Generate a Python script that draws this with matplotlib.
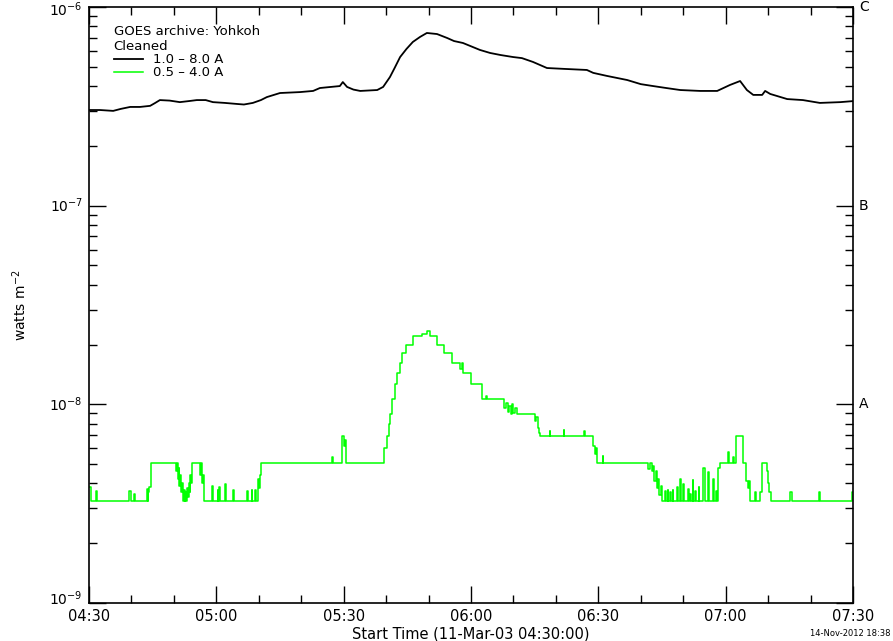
import math
import matplotlib
matplotlib.use("Agg")
import matplotlib.pyplot as plt
import matplotlib.ticker as mticker
import matplotlib.transforms as mtransforms

# ---- data (minutes after 04:30 on 11-Mar-03) ----
long_t = [0, 2.6, 5.7, 7.5, 9.7, 12, 14.4, 15.5, 16.7, 19, 21.4, 23.5, 25.4, 27.5, 29.2, 32,
          34.9, 36.5, 38.6, 40.5, 41.9, 45.0, 49.7, 52.8, 54.4, 57, 59.1, 59.8, 60.8, 62.3,
          63.9, 67.9, 69.3, 70.9, 72.0, 73.3, 74.8, 76.3, 78.0, 79.6, 82.0, 84.4, 86.0, 88.1,
          92.1, 94.5, 97, 99.9, 102, 104.6, 107.9, 112, 117.3, 118.8, 122, 126.8, 130, 132.9,
          136, 139.3, 144, 148.0, 151.0, 153.4, 155.0, 156.5, 158.6, 159.3, 160.5, 164.5,
          168.2, 172.2, 177, 180]
long_flux = [3.03e-7, 3.03e-7, 3.00e-7, 3.07e-7, 3.14e-7, 3.14e-7, 3.18e-7, 3.28e-7, 3.40e-7,
             3.38e-7, 3.32e-7, 3.36e-7, 3.40e-7, 3.40e-7, 3.32e-7, 3.29e-7, 3.25e-7, 3.23e-7,
             3.29e-7, 3.40e-7, 3.52e-7, 3.69e-7, 3.73e-7, 3.78e-7, 3.91e-7, 3.96e-7, 4.00e-7,
             4.19e-7, 3.96e-7, 3.84e-7, 3.78e-7, 3.82e-7, 3.96e-7, 4.44e-7, 4.93e-7, 5.60e-7,
             6.15e-7, 6.67e-7, 7.07e-7, 7.40e-7, 7.31e-7, 6.98e-7, 6.74e-7, 6.59e-7, 6.08e-7,
             5.87e-7, 5.73e-7, 5.60e-7, 5.53e-7, 5.29e-7, 4.93e-7, 4.88e-7, 4.82e-7, 4.66e-7,
             4.50e-7, 4.29e-7, 4.09e-7, 4.00e-7, 3.91e-7, 3.82e-7, 3.78e-7, 3.78e-7, 4.05e-7,
             4.24e-7, 3.82e-7, 3.61e-7, 3.61e-7, 3.78e-7, 3.65e-7, 3.44e-7, 3.40e-7, 3.29e-7,
             3.32e-7, 3.36e-7]

short_t = [0.0, 0.5, 1.6, 2.0, 9.5, 9.8, 10.7, 10.9, 13.6, 13.8, 14.0, 14.2, 14.5,
           20.4, 20.7, 20.9, 21.1, 21.3, 21.5, 21.7, 21.9, 22.1, 22.3, 22.5, 22.7, 22.9, 23.1,
           23.3, 23.5, 23.7, 23.9, 24.1, 24.3,
           26.2, 26.4, 26.6, 26.8, 27.0, 27.2,
           28.9, 29.1, 30.3, 30.5, 30.7, 30.9, 32.0, 32.2, 34.0, 34.2, 37.2, 37.4, 38.3, 38.5,
           39.1, 39.3, 39.7, 40.0, 40.2, 40.5,
           57.3, 57.6, 59.7, 60.1, 60.3, 60.5,
           69.6, 70.1, 70.7, 71.0, 71.4, 72.1, 72.5, 73.2, 73.7, 74.7, 76.3, 78.5, 79.6, 80.3,
           82.1, 83.6, 85.5, 87.4, 87.8, 88.2, 89.9, 92.5, 93.6, 93.8,
           97.8, 98.2, 98.6, 99.0, 99.4, 99.7, 100.0, 100.4, 100.8,
           105.1, 105.4, 105.7, 106.0, 106.3, 108.5, 108.7, 111.8, 112.0, 116.7, 116.9,
           118.8, 119.1, 119.4, 119.6, 121.0, 121.2, 131.8, 132.2,
           132.6, 132.9, 133.2, 133.5, 133.8, 134.1, 134.4, 134.7, 134.9,
           135.7, 135.9, 136.3, 136.5, 136.9, 137.1, 137.5, 137.7, 138.5, 138.7, 139.3, 139.5,
           140.0, 140.2, 141.2, 141.4, 141.6, 141.8, 142.2, 142.4, 142.8, 143.0, 143.6, 143.8,
           144.7, 145.2, 145.9, 146.1, 147.1, 147.3, 147.7, 147.9,
           148.3, 148.6, 150.6, 150.9, 151.8, 152.0, 152.4, 154.0, 154.9, 155.2, 155.5, 155.7,
           156.9, 157.1, 158.0, 158.5, 159.7, 159.9, 160.2, 160.6,
           165.2, 165.6, 172.1, 172.3, 179.8, 180.0]
short_flux = [3.85e-9, 3.27e-9, 3.65e-9, 3.27e-9, 3.65e-9, 3.27e-9, 3.55e-9, 3.27e-9,
              3.75e-9, 3.27e-9, 3.6e-9, 3.85e-9, 5.07e-9,
              4.6e-9, 5.07e-9, 4.2e-9, 4.8e-9, 3.9e-9, 4.4e-9, 3.6e-9, 4.0e-9, 3.27e-9, 3.7e-9,
              3.27e-9, 3.6e-9, 3.27e-9, 3.8e-9, 3.4e-9, 4.0e-9, 3.6e-9, 4.4e-9, 4.0e-9, 5.07e-9,
              4.4e-9, 5.07e-9, 4.0e-9, 4.4e-9, 3.6e-9, 3.27e-9,
              3.9e-9, 3.27e-9, 3.7e-9, 3.27e-9, 3.85e-9, 3.27e-9, 3.95e-9, 3.27e-9, 3.7e-9,
              3.27e-9, 3.65e-9, 3.27e-9, 3.7e-9, 3.27e-9, 3.7e-9, 3.27e-9, 4.2e-9, 3.8e-9,
              4.4e-9, 5.07e-9,
              5.4e-9, 5.07e-9, 6.93e-9, 6.2e-9, 6.6e-9, 5.07e-9,
              6.0e-9, 6.93e-9, 8.0e-9, 8.9e-9, 1.06e-8, 1.26e-8, 1.44e-8, 1.62e-8, 1.81e-8,
              2.0e-8, 2.21e-8, 2.26e-8, 2.35e-8, 2.21e-8,
              2.0e-8, 1.81e-8, 1.62e-8, 1.5e-8, 1.62e-8, 1.44e-8, 1.26e-8, 1.06e-8, 1.1e-8,
              1.06e-8,
              9.6e-9, 1.02e-8, 9.2e-9, 9.8e-9, 8.9e-9, 1.0e-8, 9.0e-9, 9.6e-9, 8.9e-9,
              8.2e-9, 8.6e-9, 7.6e-9, 7.2e-9, 6.93e-9, 7.3e-9, 6.93e-9, 7.4e-9, 6.93e-9,
              7.3e-9, 6.93e-9,
              6.2e-9, 5.6e-9, 6.0e-9, 5.07e-9, 5.5e-9, 5.07e-9, 4.75e-9, 5.07e-9,
              4.6e-9, 4.9e-9, 4.1e-9, 4.6e-9, 3.8e-9, 4.2e-9, 3.5e-9, 3.9e-9, 3.27e-9,
              3.65e-9, 3.27e-9, 3.7e-9, 3.27e-9, 3.6e-9, 3.27e-9, 3.7e-9, 3.27e-9, 3.85e-9,
              3.27e-9, 4.2e-9, 3.27e-9, 3.95e-9, 3.27e-9, 3.75e-9, 3.27e-9, 3.55e-9, 3.27e-9,
              4.15e-9, 3.27e-9, 3.65e-9, 3.27e-9, 3.85e-9, 3.27e-9, 4.8e-9, 3.27e-9, 4.55e-9,
              3.27e-9, 4.2e-9, 3.27e-9, 3.65e-9, 3.27e-9,
              4.8e-9, 5.07e-9, 5.75e-9, 5.07e-9, 5.4e-9, 5.07e-9, 6.93e-9, 5.07e-9, 4.1e-9,
              3.8e-9, 4.1e-9, 3.27e-9,
              3.6e-9, 3.27e-9, 3.6e-9, 5.07e-9, 4.6e-9, 4.0e-9, 3.6e-9, 3.27e-9,
              3.6e-9, 3.27e-9, 3.6e-9, 3.27e-9, 3.6e-9, 3.6e-9]

xtick_pos = [0, 30, 60, 90, 120, 150, 180]
xtick_labels = ["04:30", "05:00", "05:30", "06:00", "06:30", "07:00", "07:30"]
ytick_pos = [1e-9, 1e-8, 1e-7, 1e-6]
goes_class_flux = [1e-6, 1e-7, 1e-8]
goes_class_labels = ["C", "B", "A"]

# ---- figure ----
fig = plt.figure(figsize=(8.93, 6.41), dpi=100)
ax = fig.add_axes([89 / 893, 1 - 603 / 641, (853 - 89) / 893, (603 - 7) / 641])

ax.plot(long_t, long_flux, color="black", lw=1.3, label="1.0 \u2013 8.0 A")
ax.step(short_t, short_flux, where="post", color="#00ff00", lw=1.1, label="0.5 \u2013 4.0 A")

ax.set_yscale("log")
ax.set_ylim(1e-9, 1e-6)
ax.set_xlim(0, 180)
ax.set_xticks(xtick_pos)
ax.set_xticklabels(xtick_labels)
ax.xaxis.set_minor_locator(mticker.MultipleLocator(10))
ax.yaxis.set_major_locator(mticker.FixedLocator(ytick_pos))
ax.yaxis.set_minor_locator(mticker.LogLocator(base=10, subs=range(2, 10), numticks=20))
ax.yaxis.set_minor_formatter(mticker.NullFormatter())
ax.yaxis.set_major_formatter(mticker.NullFormatter())
ax.tick_params(which="both", direction="in", top=True, right=True, width=1)
ax.tick_params(which="major", length=12)
ax.tick_params(which="minor", length=6)
ax.tick_params(axis="x", which="major", labelsize=10.5, pad=4)
for s in ax.spines.values():
    s.set_linewidth(1.2)

# decade labels on the left, class letters on the right
trans = mtransforms.blended_transform_factory(ax.transAxes, ax.transData)
ylim_lo, ylim_hi = ax.get_ylim()
for f in ytick_pos:
    if f >= ylim_hi:
        dy = -2
    elif f <= ylim_lo:
        dy = 3
    else:
        dy = 0
    shift = mtransforms.ScaledTranslation(0, dy / 72, fig.dpi_scale_trans)
    ax.text(-0.008, f, r"$10^{%d}$" % round(math.log10(f)), transform=trans + shift,
            ha="right", va="center", fontsize=10)
for f, lab in zip(goes_class_flux, goes_class_labels):
    ax.text(1.008, f, lab, transform=trans, ha="left", va="center", fontsize=10)

ax.set_ylabel(r"watts m$^{-2}$", fontsize=10)
ax.yaxis.set_label_coords(-0.078, 0.5)
ax.set_xlabel("Start Time (11-Mar-03 04:30:00)", fontsize=10.5)
ax.xaxis.set_label_coords(0.5, -0.039)

leg = ax.legend(loc="upper left", bbox_to_anchor=(0.02, 0.985), frameon=False,
                title="GOES archive: Yohkoh\nCleaned", title_fontsize=9.5, fontsize=9.5,
                handlelength=2.2, handletextpad=0.8, labelspacing=0.0, borderpad=0.2,
                alignment="left")

fig.text(0.997, 0.004, "14-Nov-2012 18:38", ha="right", va="bottom", fontsize=6)

fig.savefig("out.png", dpi=100)
